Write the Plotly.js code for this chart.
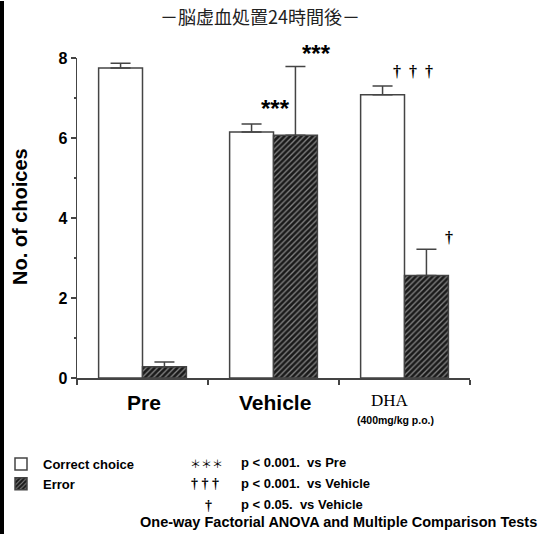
<!DOCTYPE html>
<html>
<head>
<meta charset="utf-8">
<script src="https://cdn.plot.ly/plotly-3.0.1.min.js"></script>
<style>
html,body{margin:0;padding:0;background:#fff;}
#chart{width:539px;height:535px;}
</style>
</head>
<body>
<div id="chart"></div>
<script>
// ---- data ----
const categories = ['Pre', 'Vehicle', 'DHA'];
const correctChoice = [7.75, 6.15, 7.08];
const correctSE = [0.12, 0.20, 0.22];
const errorChoice = [0.28, 6.07, 2.56];
const errorSE = [0.12, 1.72, 0.66];
const yTickVals = [0, 2, 4, 6, 8];
const seriesNames = ['Correct choice', 'Error'];
const titleText = '－脳虚血処置24時間後－';

// ---- layout helpers (pixel -> paper) ----
const W = 539, H = 535;
const L = 77, R = 69, T = 58, B = 157;
const PW = W - L - R, PH = H - T - B;
const px = x => (x - L) / PW;
const py = y => (H - B - y) / PH;

const sans = 'Liberation Sans, Arial, sans-serif';
const serif = 'Liberation Serif, Times New Roman, serif';
const lineCol = '#444';
const nb = '\u00a0';

const traces = [
  {
    type: 'bar', name: seriesNames[0], x: categories, y: correctChoice,
    marker: {color: '#ffffff', line: {color: lineCol, width: 1.5}},
    error_y: {type: 'data', symmetric: false, array: correctSE, arrayminus: [0,0,0],
              color: lineCol, thickness: 1.5, width: 10}
  },
  {
    type: 'bar', name: seriesNames[1], x: categories, y: errorChoice,
    marker: {color: '#222', line: {color: lineCol, width: 1.5},
             pattern: {shape: '/', bgcolor: '#1a1a1a', fgcolor: '#858585', size: 4, solidity: 0.33}},
    error_y: {type: 'data', symmetric: false, array: errorSE, arrayminus: [0,0,0],
              color: lineCol, thickness: 1.5, width: 10}
  }
];

const annotations = [
  // significance marks on bars
  {xref: 'x', yref: 'paper', x: 'Vehicle', xshift: 2, y: py(108), text: '***', showarrow: false,
   font: {family: sans, size: 24, color: '#000', weight: 'bold'}, yanchor: 'middle'},
  {xref: 'x', yref: 'paper', x: 'Vehicle', xshift: 43, y: py(53), text: '***', showarrow: false,
   font: {family: sans, size: 24, color: '#000', weight: 'bold'}, yanchor: 'middle'},
  {xref: 'x', yref: 'paper', x: 'DHA', xshift: 8, y: py(72), text: '†' + nb + nb + '†' + nb + nb + '†', showarrow: false,
   font: {family: serif, size: 16, color: '#000', weight: 'bold'}, yanchor: 'middle'},
  {xref: 'x', yref: 'paper', x: 'DHA', xshift: 44, y: py(237), text: '†', showarrow: false,
   font: {family: serif, size: 16, color: '#000', weight: 'bold'}, yanchor: 'middle'},
  // x category labels
  {xref: 'x', yref: 'paper', x: 'Pre', xshift: 1, y: py(402), text: 'Pre', showarrow: false,
   font: {family: sans, size: 21, color: '#000', weight: 'bold'}, yanchor: 'middle'},
  {xref: 'x', yref: 'paper', x: 'Vehicle', xshift: 1, y: py(402), text: 'Vehicle', showarrow: false,
   font: {family: sans, size: 21, color: '#000', weight: 'bold'}, yanchor: 'middle'},
  {xref: 'x', yref: 'paper', x: 'DHA', xshift: -15, y: py(400), text: 'DHA', showarrow: false,
   font: {family: serif, size: 17, color: '#000'}, yanchor: 'middle'},
  {xref: 'x', yref: 'paper', x: 'DHA', xshift: -9, y: py(420), text: '(400mg/kg p.o.)', showarrow: false,
   font: {family: sans, size: 10.5, color: '#000', weight: 'bold'}, yanchor: 'middle'},
  // y axis title
  {xref: 'paper', yref: 'paper', x: px(20), y: py(217), text: 'No. of choices', textangle: -90,
   showarrow: false, font: {family: sans, size: 20, color: '#000', weight: 'bold'},
   xanchor: 'center', yanchor: 'middle'},
  // notes
  {xref: 'paper', yref: 'paper', x: px(188), y: py(463), text: '＊＊＊', showarrow: false,
   xanchor: 'left', yanchor: 'middle', font: {family: 'Noto Sans CJK JP', size: 11, color: '#000'}},
  {xref: 'paper', yref: 'paper', x: px(239), y: py(462), text: 'p < 0.001.  vs Pre', showarrow: false,
   xanchor: 'left', yanchor: 'middle', font: {family: sans, size: 13, color: '#000', weight: 'bold'}},
  {xref: 'paper', yref: 'paper', x: px(189), y: py(483), text: '† † †', showarrow: false,
   xanchor: 'left', yanchor: 'middle', font: {family: serif, size: 14, color: '#000', weight: 'bold'}},
  {xref: 'paper', yref: 'paper', x: px(239), y: py(483), text: 'p < 0.001.  vs Vehicle', showarrow: false,
   xanchor: 'left', yanchor: 'middle', font: {family: sans, size: 13, color: '#000', weight: 'bold'}},
  {xref: 'paper', yref: 'paper', x: px(203), y: py(505), text: '†', showarrow: false,
   xanchor: 'left', yanchor: 'middle', font: {family: serif, size: 14, color: '#000', weight: 'bold'}},
  {xref: 'paper', yref: 'paper', x: px(239), y: py(504), text: 'p < 0.05.  vs Vehicle', showarrow: false,
   xanchor: 'left', yanchor: 'middle', font: {family: sans, size: 13, color: '#000', weight: 'bold'}},
  {xref: 'paper', yref: 'paper', x: px(338), y: py(522), text: 'One-way Factorial ANOVA and Multiple Comparison Tests',
   showarrow: false, xanchor: 'center', yanchor: 'middle',
   font: {family: sans, size: 14.5, color: '#000', weight: 'bold'}}
];

const layout = {
  width: W, height: H,
  margin: {l: L, r: R, t: T, b: B, pad: 0, autoexpand: false},
  paper_bgcolor: '#fff', plot_bgcolor: '#fff',
  title: {text: titleText, x: 260 / W, xanchor: 'center', xref: 'container',
          y: 1 - 18 / H, yanchor: 'middle', yref: 'container',
          font: {family: 'Noto Sans CJK JP', size: 18, color: '#222'}},
  barmode: 'group', bargap: 0.33, bargroupgap: 0,
  showlegend: true,
  legend: {x: px(-1), y: py(449), xanchor: 'left', yanchor: 'top', bgcolor: 'rgba(0,0,0,0)',
           itemwidth: 34,
           font: {family: sans, size: 13, color: '#000', weight: 'bold'}, tracegroupgap: 0},
  xaxis: {type: 'category', showticklabels: false, showline: true, linecolor: lineCol, linewidth: 1.5,
          ticks: 'outside', tickson: 'boundaries', ticklen: 5, tickcolor: lineCol, tickwidth: 1.5,
          showgrid: false, zeroline: false, fixedrange: true},
  yaxis: {range: [0, 8], tickvals: yTickVals, showline: true, linecolor: lineCol, linewidth: 1.5,
          ticks: 'outside', ticklen: 5, tickcolor: lineCol, tickwidth: 1.5,
          minor: {dtick: 1, ticks: 'outside', ticklen: 2, tickcolor: lineCol, tickwidth: 1.5, showgrid: false},
          tickfont: {family: sans, size: 16, color: '#000', weight: 'bold'},
          showgrid: false, zeroline: false, fixedrange: true},
  annotations: annotations,
  shapes: [
    {type: 'line', xref: 'paper', yref: 'paper', x0: px(2), x1: px(2), y0: py(H - 1), y1: py(1),
     line: {color: '#000', width: 4}, layer: 'above'}
  ]
};

Plotly.newPlot('chart', traces, layout, {displayModeBar: false, staticPlot: true});
</script>
</body>
</html>
